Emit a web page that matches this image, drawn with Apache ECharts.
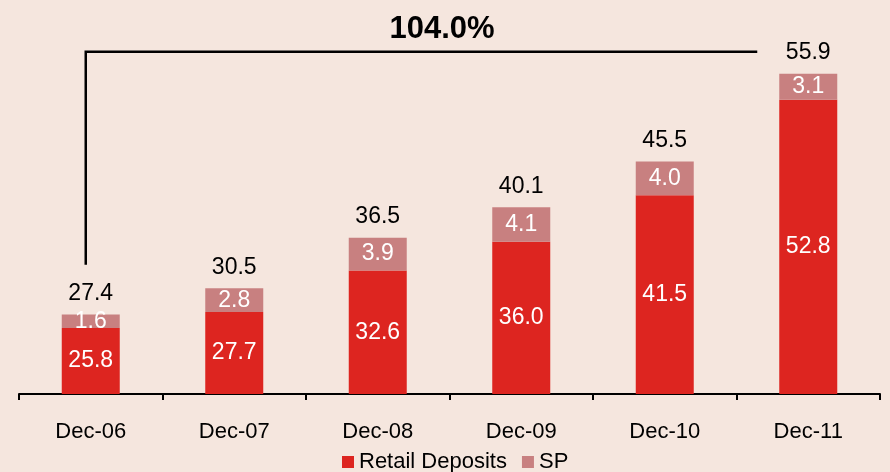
<!DOCTYPE html>
<html>
<head>
<meta charset="utf-8">
<script src="https://cdn.jsdelivr.net/npm/echarts@6/dist/echarts.min.js"></script>
<style>
html,body{margin:0;padding:0;background:#F5E6DE;}
#c{width:890px;height:472px;}
</style>
</head>
<body>
<div id="c"></div>
<script>
const categories = ['Dec-06','Dec-07','Dec-08','Dec-09','Dec-10','Dec-11'];
const retailDeposits = [25.8, 27.7, 32.6, 36.0, 41.5, 52.8];
const sp = [1.6, 2.8, 3.9, 4.1, 4.0, 3.1];
const totals = [27.4, 30.5, 36.5, 40.1, 45.5, 55.9];
const growthLabel = '104.0%';
const bracketLevel = 58.5;
const bracketBottom = 33.3;

const FONT = 'Liberation Sans, Arial, sans-serif';
const chart = echarts.init(document.getElementById('c'), null, {renderer:'canvas'});
const option = {
  backgroundColor: '#F5E6DE',
  animation: false,
  textStyle: {fontFamily: FONT},
  grid: {left: 19, right: 10, top: 39, bottom: 78, containLabel: false},
  legend: {
    left: 342, top: 451, padding: 0,
    itemWidth: 12, itemHeight: 12, itemGap: 15,
    icon: 'rect',
    data: ['Retail Deposits','SP'],
    textStyle: {fontSize: 22, color: '#000', fontFamily: FONT, padding: [0,0,0,0]}
  },
  xAxis: {
    type: 'category',
    data: categories,
    axisLine: {lineStyle: {color: '#000', width: 2}},
    axisTick: {show: true, alignWithLabel: false, length: 6, lineStyle: {color: '#000', width: 2}},
    axisLabel: {fontSize: 22, color: '#000', margin: 27, fontFamily: FONT}
  },
  yAxis: {
    type: 'value', min: 18, max: 60, show: false,
    splitLine: {show: false}
  },
  series: [
    {
      name: 'Retail Deposits', type: 'bar', stack: 'a', barWidth: 58,
      data: retailDeposits,
      itemStyle: {color: '#DD2520'},
      label: {show: true, position: 'inside', color: '#fff', fontSize: 23, fontFamily: FONT,
        formatter: p => p.value.toFixed(1)}
    },
    {
      name: 'SP', type: 'bar', stack: 'a', barWidth: 58,
      data: sp,
      itemStyle: {color: '#C88080'},
      label: {show: true, position: 'inside', color: '#fff', fontSize: 23, fontFamily: FONT,
        formatter: p => p.value.toFixed(1)}
    },
    {
      name: 'Total', type: 'bar', barWidth: 58, barGap: '-100%',
      data: totals, z: 0,
      itemStyle: {color: 'rgba(0,0,0,0)'},
      emphasis: {disabled: true},
      label: {show: true, position: 'top', distance: 9, color: '#000', fontSize: 23, fontFamily: FONT,
        formatter: p => p.value.toFixed(1)}
    }
  ]
};
chart.setOption(option);

function drawBracket(){
  const pLeftBottom = chart.convertToPixel({xAxisIndex:0, yAxisIndex:0}, [categories[0], bracketBottom]);
  const pLeftTop = chart.convertToPixel({xAxisIndex:0, yAxisIndex:0}, [categories[0], bracketLevel]);
  const pRight = chart.convertToPixel({xAxisIndex:0, yAxisIndex:0}, [categories[categories.length-1], bracketLevel]);
  const lx = pLeftTop[0] - 5;
  const rx = pRight[0] - 51;
  chart.setOption({
    graphic: [
      {
        type: 'polyline',
        shape: {points: [[lx, pLeftBottom[1]], [lx, pLeftTop[1]], [rx, pLeftTop[1]]]},
        style: {stroke: '#000', lineWidth: 2.5, fill: null},
        z: 10
      },
      {
        type: 'text',
        x: 442, y: 29,
        style: {text: growthLabel, font: 'bold 31px ' + FONT, fill: '#000', textAlign: 'center', textVerticalAlign: 'middle'},
        z: 10
      }
    ]
  });
}
drawBracket();
</script>
</body>
</html>
